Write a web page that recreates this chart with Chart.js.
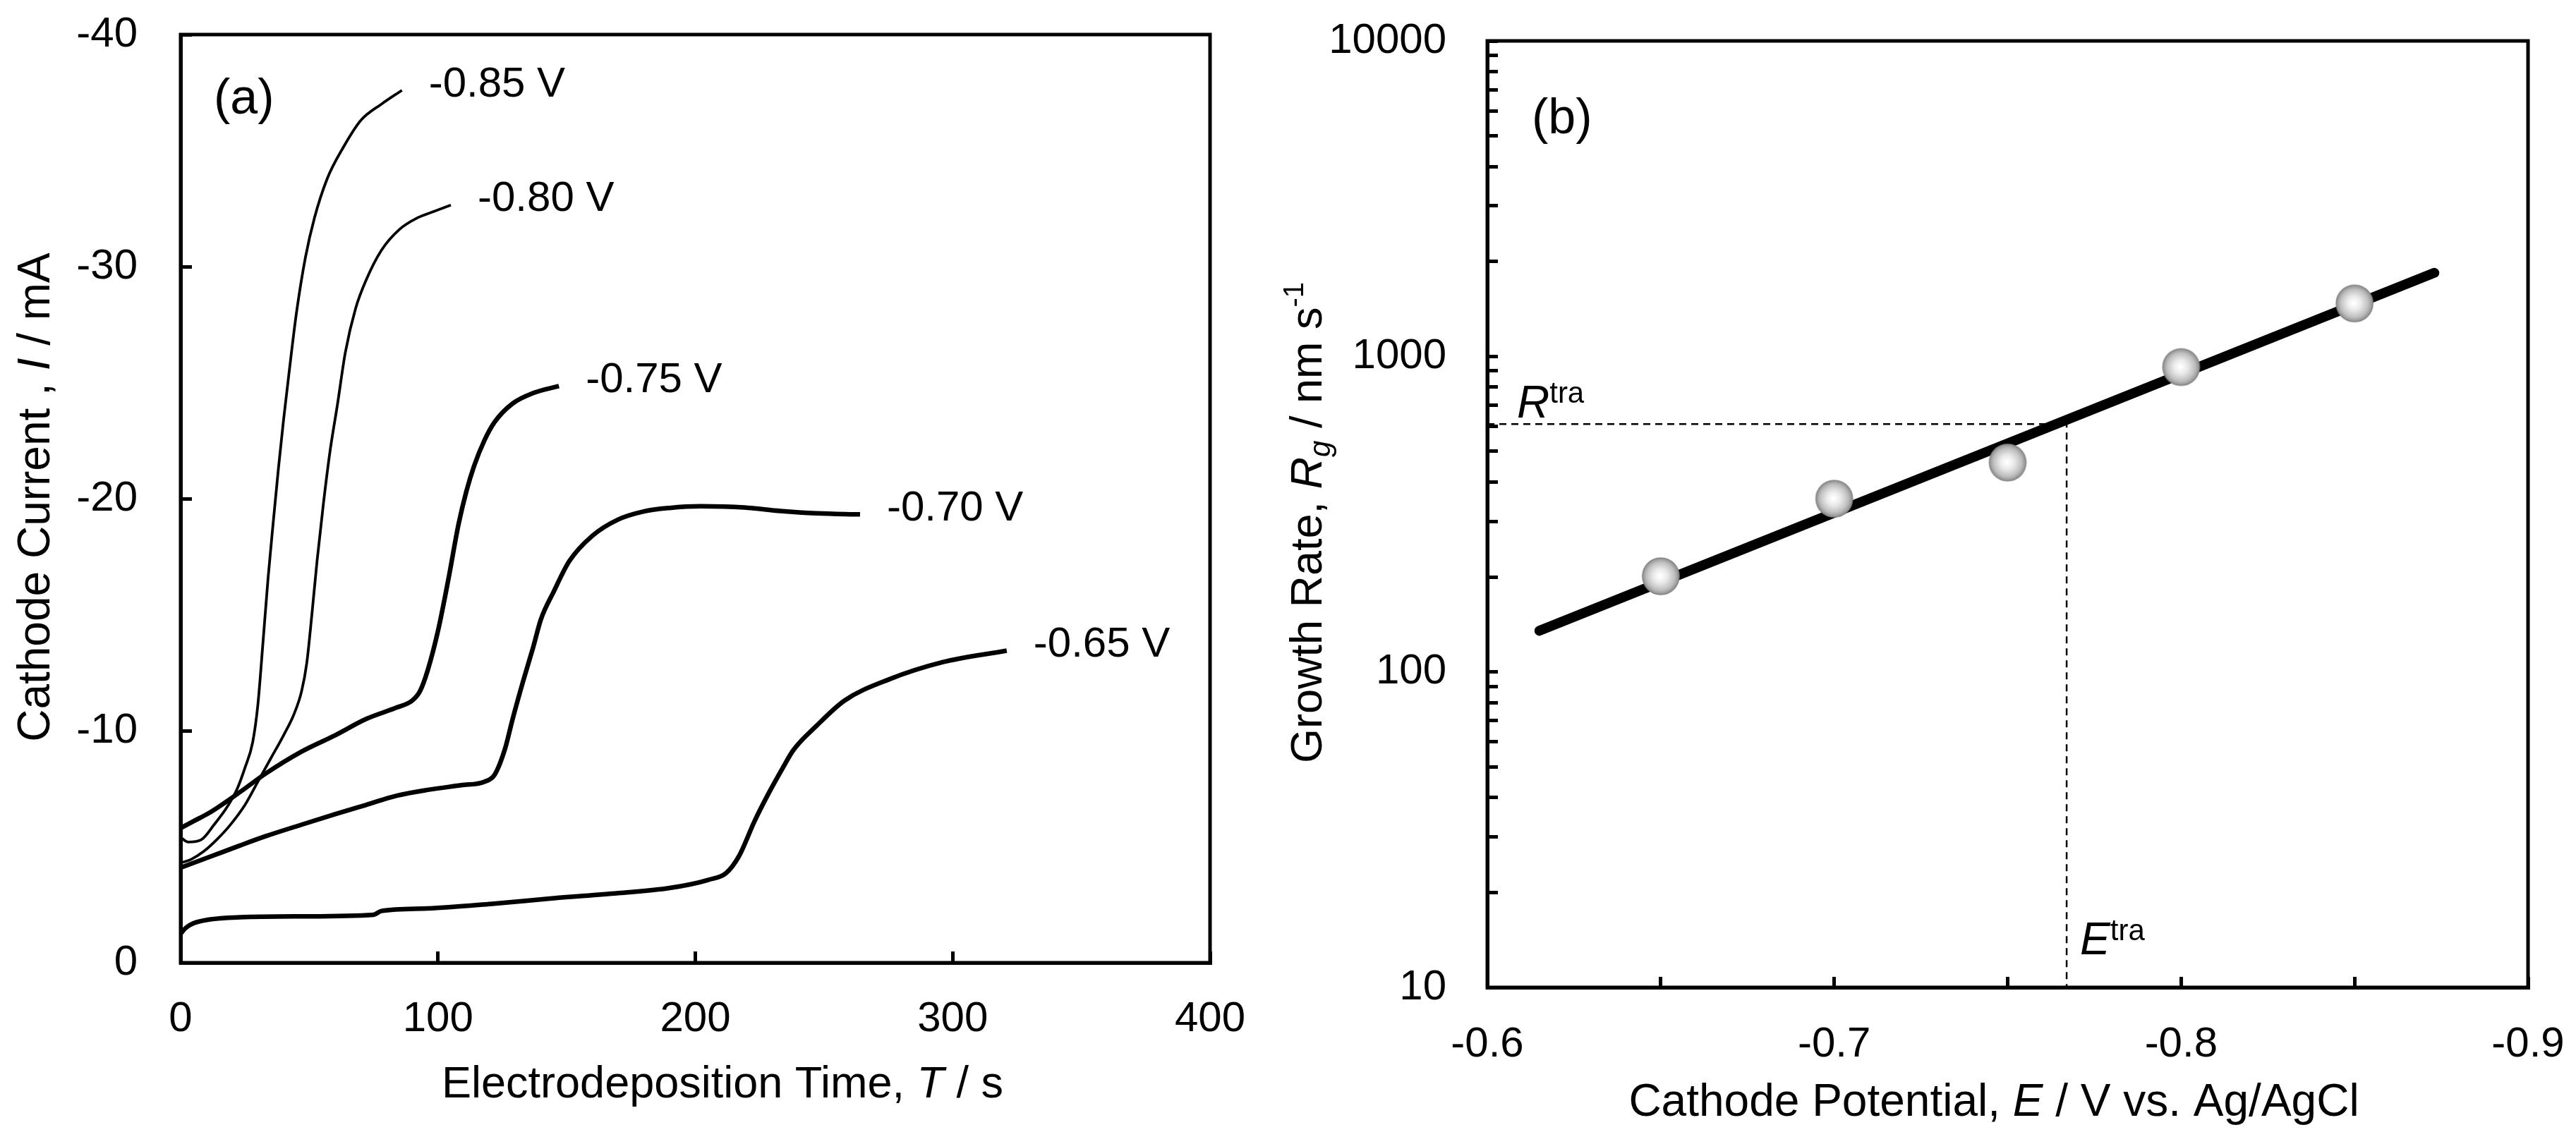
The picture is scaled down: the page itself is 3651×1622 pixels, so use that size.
<!DOCTYPE html>
<html>
<head>
<meta charset="utf-8">
<title>Cathode current transients and growth rate</title>
<script src="https://cdn.jsdelivr.net/npm/chart.js@4.4.1/dist/chart.umd.min.js"></script>
<style>
  html, body { margin: 0; padding: 0; background: #fff; }
  #wrap { position: relative; width: 3651px; height: 1622px; overflow: hidden; background: #fff; }
  #chartA { position: absolute; left: 0; top: 0; }
  #chartB { position: absolute; left: 1790px; top: 0; }
</style>
</head>
<body>
<div id="wrap">
  <canvas id="chartA" width="1790" height="1622"></canvas>
  <canvas id="chartB" width="1861" height="1622"></canvas>
</div>
<script>
// (a) current transients: time T / s and cathode current I / mA
var curveLabels = ['-0.85 V', '-0.80 V', '-0.75 V', '-0.70 V', '-0.65 V'];

var time_085 = [0, 3, 8, 13, 18, 22, 25, 28, 30, 32, 34, 36, 38, 40, 42, 45, 48.5, 52, 57, 63, 70, 78, 86];
var cur_085 = [-5.4, -5.2, -5.3, -5.95, -6.7, -7.5, -8.4, -9.5, -11.1, -13.8, -16.6, -19.0, -21.3, -23.4, -25.3, -28.0, -30.4, -32.1, -33.8, -35.1, -36.3, -37.0, -37.6];

var time_080 = [0, 4, 9, 14, 19, 25, 30, 35, 40, 44, 47, 49, 51, 53, 55.5, 58, 61, 64, 68, 72, 78, 85, 92, 99, 105];
var cur_080 = [-4.3, -4.45, -4.8, -5.3, -5.9, -6.8, -7.8, -8.8, -9.8, -10.7, -11.7, -12.9, -15.0, -17.3, -19.8, -22.0, -24.1, -26.3, -28.2, -29.4, -30.7, -31.6, -32.1, -32.4, -32.65];

var time_075 = [0, 5, 11, 23, 33, 47, 60, 72, 84, 90, 93, 96, 100, 104, 108, 111, 114, 118, 122, 129, 137, 147];
var cur_075 = [-5.8, -6.1, -6.45, -7.35, -8.15, -9.1, -9.8, -10.5, -11.0, -11.3, -11.7, -12.6, -14.3, -16.5, -18.9, -20.3, -21.4, -22.5, -23.3, -24.1, -24.55, -24.85];

var time_070 = [0, 11, 23, 33, 47, 60, 72, 84, 96, 109, 118, 122, 126, 129, 133, 137, 140, 145, 151, 160, 170, 180, 190, 202, 219, 233, 247, 264];
var cur_070 = [-4.1, -4.55, -5.05, -5.45, -5.95, -6.4, -6.8, -7.2, -7.45, -7.65, -7.8, -8.1, -9.2, -10.5, -12.1, -13.6, -14.8, -16.0, -17.3, -18.4, -19.1, -19.45, -19.6, -19.67, -19.62, -19.47, -19.37, -19.32];

var time_065 = [0, 2, 5, 11, 23, 47, 75, 78, 96, 121, 145, 170, 190, 205, 212, 217, 223, 228, 234, 238, 247, 258, 275, 296, 321];
var cur_065 = [-1.25, -1.5, -1.7, -1.86, -1.96, -2.0, -2.07, -2.23, -2.34, -2.54, -2.78, -3.0, -3.22, -3.57, -3.87, -4.6, -6.1, -7.2, -8.4, -9.15, -10.2, -11.3, -12.2, -12.95, -13.45];

var curveTimes = [time_085, time_080, time_075, time_070, time_065];
var curveCurrents = [cur_085, cur_080, cur_075, cur_070, cur_065];

// (b) growth rate vs cathode potential
var potentials = [-0.65, -0.70, -0.75, -0.80, -0.85];
var growthRates = [201, 354, 461, 925, 1472];
var fitPotentials = [-0.615, -0.873];
var fitRates = [135, 1840];
var transPotential = -0.767;
var transRate = 610;

var potentialTicks = [-0.9, -0.85, -0.8, -0.75, -0.7, -0.65, -0.6];
var potentialTickLabels = [-0.9, -0.8, -0.7, -0.6];
var rateTicks = [10, 20, 30, 40, 50, 60, 70, 80, 90,
                 100, 200, 300, 400, 500, 600, 700, 800, 900,
                 1000, 2000, 3000, 4000, 5000, 6000, 7000, 8000, 9000, 10000];
var rateTickLabels = [10, 100, 1000, 10000];

var FONT = '"Liberation Sans", Arial, Helvetica, sans-serif';
Chart.defaults.font.family = FONT;
Chart.defaults.color = '#000';

function toPoints(xs, ys) {
    var pts = [];
    for (let i = 0; i < xs.length; i++) {
        pts.push({ x: xs[i], y: ys[i] });
    }
    return pts;
}

function part(text, size, italic, rise) {
    return { text: text, size: size, italic: !!italic, rise: rise || 0 };
}

// draws a run of text pieces (italic, sub/superscript) along one baseline
function drawRich(ctx, parts, x, y, align, vertical) {
    ctx.save();
    ctx.translate(x, y);
    if (vertical) ctx.rotate(-Math.PI / 2);
    ctx.fillStyle = '#000';
    ctx.textBaseline = 'alphabetic';
    ctx.textAlign = 'left';
    var widths = [];
    var total = 0;
    parts.forEach(function (p) {
        ctx.font = (p.italic ? 'italic ' : '') + p.size + 'px ' + FONT;
        var w = ctx.measureText(p.text).width;
        widths.push(w);
        total += w;
    });
    var cx = align === 'center' ? -total / 2 : 0;
    parts.forEach(function (p, k) {
        ctx.font = (p.italic ? 'italic ' : '') + p.size + 'px ' + FONT;
        ctx.fillText(p.text, cx, -p.rise);
        cx += widths[k];
    });
    ctx.restore();
}

function drawFrame(chart) {
    var ca = chart.chartArea;
    var ctx = chart.ctx;
    ctx.save();
    ctx.strokeStyle = '#000';
    ctx.lineWidth = 5;
    ctx.strokeRect(ca.left, ca.top, ca.right - ca.left, ca.bottom - ca.top);
    ctx.restore();
}

function makeSphere(r) {
    var c = document.createElement('canvas');
    c.width = c.height = 2 * r + 4;
    var g = c.getContext('2d');
    var m = r + 2;
    var grad = g.createRadialGradient(m - r * 0.05, m - r * 0.02, r * 0.05, m, m, r);
    grad.addColorStop(0, '#ffffff');
    grad.addColorStop(0.35, '#eaeaea');
    grad.addColorStop(0.75, '#bfbfbf');
    grad.addColorStop(1, '#8e8e8e');
    g.beginPath();
    g.arc(m, m, r, 0, Math.PI * 2);
    g.fillStyle = grad;
    g.fill();
    g.lineWidth = 1.5;
    g.strokeStyle = '#858585';
    g.stroke();
    return c;
}

function axisStyle(tickLen) {
    return {
        grid: { display: true, drawOnChartArea: false, drawTicks: true, tickLength: tickLen, tickWidth: 5, color: '#000' },
        border: { display: true, width: 5, color: '#000' }
    };
}

// fixed axis box sizes, so the plot areas sit where the figure has them
function fixX(h) {
    return function (s) { s.height = h; s.paddingLeft = 0; s.paddingRight = 0; };
}
function fixY(w) {
    return function (s) { s.width = w; s.paddingTop = 0; s.paddingBottom = 0; };
}

// ---------- chart (a) ----------
var datasetsA = [];
for (let k = 0; k < curveLabels.length; k++) {
    datasetsA.push({
        label: curveLabels[k],
        data: toPoints(curveTimes[k], curveCurrents[k]),
        borderColor: '#000',
        borderWidth: k < 2 ? 3.8 : 6.5,
        pointRadius: 0,
        cubicInterpolationMode: 'monotone',
        fill: false
    });
}

var panelAPlugin = {
    id: 'panelA',
    afterDraw: function (chart) {
        var ctx = chart.ctx;
        drawFrame(chart);
        drawRich(ctx, [part('Cathode Current , ', 64), part('I', 64, true), part(' / mA', 64)], 70, 705, 'center', true);
        drawRich(ctx, [part('Electrodeposition Time, ', 63), part('T', 63, true), part(' / s', 63)], 1024, 1556, 'center', false);
        drawRich(ctx, [part('(a)', 70)], 303, 161, 'left', false);

        ctx.save();
        ctx.fillStyle = '#000';
        ctx.font = '60px ' + FONT;
        ctx.textAlign = 'left';
        ctx.textBaseline = 'middle';
        chart.data.datasets.forEach(function (ds, k) {
            var pts = chart.getDatasetMeta(k).data;
            var last = pts[pts.length - 1];
            ctx.fillText(ds.label, last.x + 38, last.y - 8);
        });
        ctx.restore();
    }
};

var axA = axisStyle(-16);
new Chart(document.getElementById('chartA'), {
    type: 'line',
    data: { datasets: datasetsA },
    options: {
        responsive: false,
        animation: false,
        devicePixelRatio: 1,
        layout: { padding: { top: 49, right: 75, left: 0, bottom: 0 } },
        plugins: { legend: { display: false }, tooltip: { enabled: false } },
        scales: {
            x: {
                type: 'linear', min: 0, max: 400,
                afterFit: fixX(257),
                ticks: { stepSize: 100, font: { size: 60 }, color: '#000', padding: 60, maxRotation: 0, autoSkip: false },
                grid: axA.grid, border: axA.border
            },
            y: {
                type: 'linear', min: -40, max: 0, reverse: true,
                afterFit: fixY(256),
                ticks: { stepSize: 10, font: { size: 60 }, color: '#000', padding: 77, autoSkip: false },
                grid: axA.grid, border: axA.border
            }
        }
    },
    plugins: [panelAPlugin]
});

// ---------- chart (b) ----------
var sphere = makeSphere(26);

var panelBPlugin = {
    id: 'panelB',
    afterDraw: function (chart) {
        var ctx = chart.ctx;
        var ca = chart.chartArea;
        drawFrame(chart);
        drawRich(ctx, [part('Growth Rate, ', 63), part('R', 63, true), part('g', 42, true, -12),
                       part(' / nm s', 63), part('-1', 40, false, 26)], 83, 741, 'center', true);
        drawRich(ctx, [part('Cathode Potential, ', 64), part('E', 64, true), part(' / V vs. Ag/AgCl', 64)], 1036, 1582, 'center', false);
        drawRich(ctx, [part('(b)', 70)], 381, 189, 'left', false);

        var yR = chart.scales.y.getPixelForValue(transRate);
        var xE = chart.scales.x.getPixelForValue(transPotential);
        drawRich(ctx, [part('R', 64, true), part('tra', 42, false, 21)], ca.left + 42, yR - 9, 'left', false);
        drawRich(ctx, [part('E', 64, true), part('tra', 42, false, 20)], xE + 19, ca.bottom - 47, 'left', false);
    }
};

var axB = axisStyle(-15);
new Chart(document.getElementById('chartB'), {
    type: 'scatter',
    data: {
        datasets: [
            {
                label: 'Growth rate',
                data: toPoints(potentials, growthRates),
                pointStyle: sphere,
                pointRadius: 26,
                showLine: false,
                order: 0
            },
            {
                label: 'Fit',
                data: toPoints(fitPotentials, fitRates),
                showLine: true,
                borderColor: '#000',
                borderWidth: 14,
                borderCapStyle: 'round',
                pointRadius: 0,
                order: 1
            },
            {
                label: 'Transition',
                data: [{ x: -0.6, y: transRate }, { x: transPotential, y: transRate }, { x: transPotential, y: 10 }],
                showLine: true,
                borderColor: '#000',
                borderWidth: 2.5,
                borderDash: [10, 7],
                pointRadius: 0,
                order: 2
            }
        ]
    },
    options: {
        responsive: false,
        animation: false,
        devicePixelRatio: 1,
        layout: { padding: { top: 58, right: 68, left: 0, bottom: 0 } },
        plugins: { legend: { display: false }, tooltip: { enabled: false } },
        scales: {
            x: {
                type: 'linear', min: -0.9, max: -0.6, reverse: true,
                afterFit: fixX(222),
                afterBuildTicks: function (s) {
                    s.ticks = potentialTicks.map(function (v) { return { value: v }; });
                },
                ticks: {
                    font: { size: 60 }, color: '#000', padding: 60, maxRotation: 0, autoSkip: false,
                    callback: function (v) {
                        var show = potentialTickLabels.some(function (p) { return Math.abs(p - v) < 1e-9; });
                        return show ? v.toFixed(1) : '';
                    }
                },
                grid: axB.grid, border: axB.border
            },
            y: {
                type: 'logarithmic', min: 10, max: 10000,
                afterFit: fixY(318),
                afterBuildTicks: function (s) {
                    s.ticks = rateTicks.map(function (v) { return { value: v }; });
                },
                ticks: {
                    font: { size: 60 }, color: '#000', padding: 73, autoSkip: false,
                    callback: function (v) {
                        return rateTickLabels.indexOf(v) >= 0 ? String(v) : '';
                    }
                },
                grid: axB.grid, border: axB.border
            }
        }
    },
    plugins: [panelBPlugin]
});
</script>
</body>
</html>
